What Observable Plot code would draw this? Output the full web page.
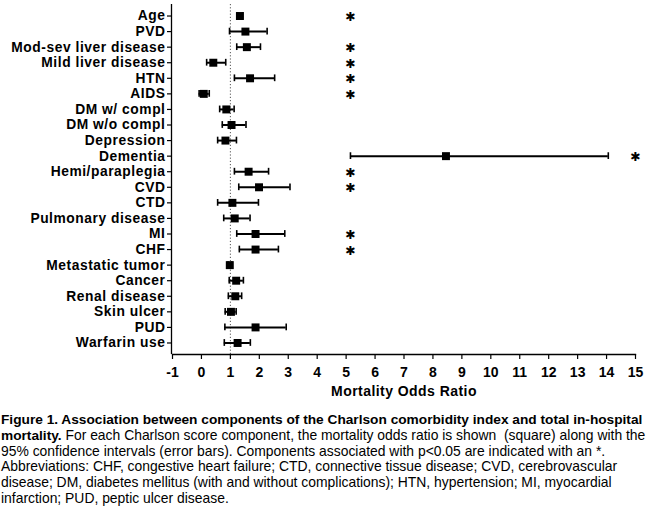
<!DOCTYPE html>
<html><head><meta charset="utf-8">
<script src="https://cdn.jsdelivr.net/npm/d3@7"></script>
<script src="https://cdn.jsdelivr.net/npm/@observablehq/plot@0.6"></script>
<style>
body{margin:0;background:#fff;}
#chart svg{display:block;}
#chart g[aria-label="y-axis tick label"] text{letter-spacing:0.55px;}
#chart g.xtitle text{letter-spacing:0.45px;}
#cap{font-family:"Liberation Sans",Arial,sans-serif;font-size:13.9px;line-height:15.8px;white-space:nowrap;color:#000;margin:4px 0 0 1px;}
#cap b{font-size:13.7px;}
</style></head><body>
<div id="chart"></div>
<div id="cap"><b>Figure 1. Association between components of the Charlson comorbidity index and total in-hospital</b><br><b>mortality.</b> For each Charlson score component, the mortality odds ratio is shown &nbsp;(square) along with the<br>95% confidence intervals (error bars). Components associated with p&lt;0.05 are indicated with an *.<br>Abbreviations: CHF, congestive heart failure; CTD, connective tissue disease; CVD, cerebrovascular<br>disease; DM, diabetes mellitus (with and without complications); HTN, hypertension; MI, myocardial<br>infarction; PUD, peptic ulcer disease.</div>
<script>
const categories = ["Age","PVD","Mod-sev liver disease","Mild liver disease","HTN","AIDS","DM w/ compl","DM w/o compl","Depression","Dementia","Hemi/paraplegia","CVD","CTD","Pulmonary disease","MI","CHF","Metastatic tumor","Cancer","Renal disease","Skin ulcer","PUD","Warfarin use"];
const oddsRatio = [1.33,1.52,1.57,0.41,1.68,0.08,0.86,1.04,0.83,8.45,1.63,1.99,1.07,1.15,1.87,1.87,0.98,1.20,1.17,1.02,1.87,1.25];
const ciLow  = [1.25,0.97,1.22,0.18,1.14,-0.08,0.63,0.72,0.56,5.15,1.14,1.29,0.56,0.77,1.22,1.31,0.92,0.96,0.93,0.82,0.81,0.79];
const ciHigh = [1.42,2.27,2.04,0.84,2.53,0.27,1.13,1.54,1.21,14.06,2.32,3.06,1.97,1.68,2.88,2.66,1.05,1.45,1.39,1.20,2.93,1.69];
const sigRows = ["Age","Mod-sev liver disease","Mild liver disease","HTN","AIDS","Dementia","Hemi/paraplegia","CVD","MI","CHF"];
const starX = [5.15,5.15,5.15,5.15,5.15,15,5.15,5.15,5.15,5.15];
const starGlyph = "\u2731";
const xTicks = [-1,0,1,2,3,4,5,6,7,8,9,10,11,12,13,14,15];
const xLabel = "Mortality Odds Ratio";
const refLine = [1];

const rows = categories.map((name, i) => ({name, or: oddsRatio[i], lo: ciLow[i], hi: ciHigh[i]}));
const stars = sigRows.map((name, i) => ({name, x: starX[i]}));

const chart = Plot.plot({
  width: 650,
  height: 408,
  marginLeft: 172,
  marginRight: 15,
  marginTop: 4,
  marginBottom: 54,
  style: {fontFamily: "'Liberation Sans', Arial, sans-serif", fontSize: "14px", fontWeight: "bold", color: "#000", background: "#fff"},
  x: {domain: [-1, 15]},
  y: {type: "band", domain: categories, paddingInner: 0, paddingOuter: 0.24, round: false},
  marks: [
    Plot.ruleX(refLine, {stroke: "#555", strokeWidth: 1, strokeDasharray: "1.2,2"}),
    Plot.ruleX([-1], {stroke: "#000", strokeWidth: 1.3, dx: -1}),
    Plot.frame({anchor: "bottom", stroke: "#000", strokeWidth: 1.3}),
    Plot.axisY({tickSize: 5, tickPadding: 2, fontSize: 13.8, fontWeight: "bold", label: null, strokeWidth: 1.2}),
    Plot.axisX({ticks: xTicks, tickSize: 5, tickPadding: 8, tickFormat: d => String(d), fontSize: 14, fontWeight: "bold", label: null, strokeWidth: 1.2}),
    Plot.ruleY(rows, {y: "name", x1: "lo", x2: "hi", stroke: "#000", strokeWidth: 2}),
    Plot.tickX(rows, {x: "lo", y: "name", insetTop: 4.4, insetBottom: 4.4, stroke: "#000", strokeWidth: 1.6}),
    Plot.tickX(rows, {x: "hi", y: "name", insetTop: 4.4, insetBottom: 4.4, stroke: "#000", strokeWidth: 1.6}),
    Plot.dot(rows, {x: "or", y: "name", symbol: "square", r: 4.5, fill: "#000", stroke: null}),
    Plot.text(stars, {x: "x", y: "name", text: () => starGlyph, fontFamily: "'DejaVu Sans', sans-serif", fontSize: 12.5, fontWeight: "normal", dy: 1}),
    Plot.text([xLabel], {frameAnchor: "bottom", dy: 41, fontSize: 14, fontWeight: "bold", className: "xtitle"})
  ]
});
document.getElementById("chart").appendChild(chart);
</script>
</body></html>
